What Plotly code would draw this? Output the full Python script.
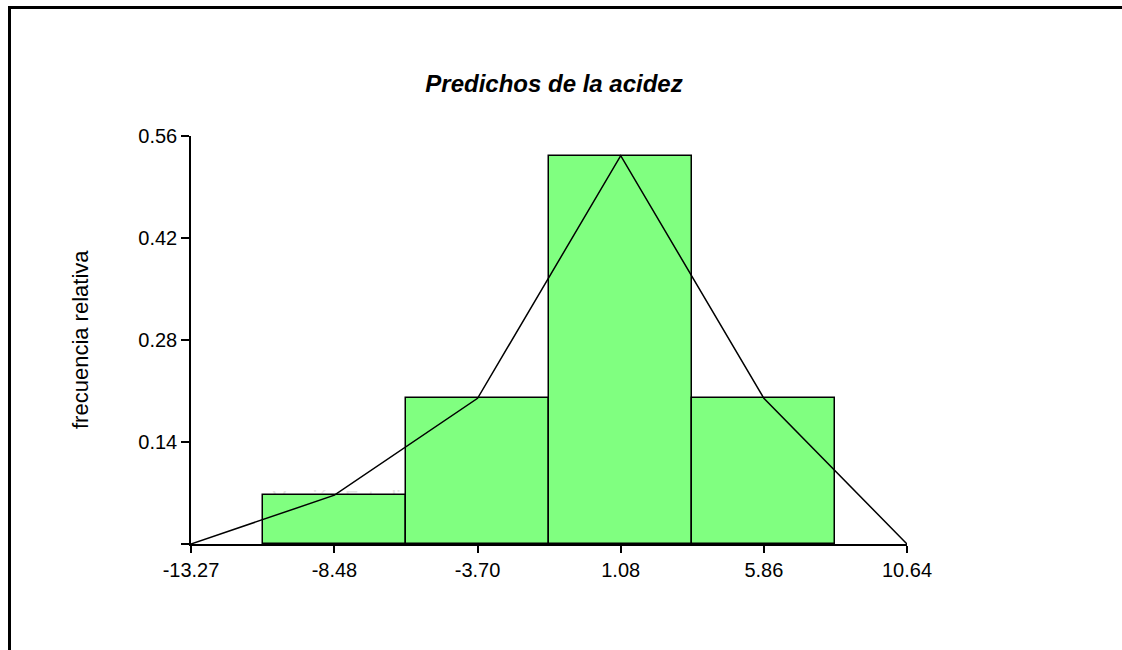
import plotly.graph_objects as go

# Data
bin_centers = [-8.48, -3.70, 1.08, 5.86]
rel_freq = [0.067, 0.200, 0.533, 0.200]
bin_width = 4.78
x_tick_vals = [-13.27, -8.48, -3.70, 1.08, 5.86, 10.64]
x_tick_text = ["-13.27", "-8.48", "-3.70", "1.08", "5.86", "10.64"]
y_tick_vals = [0, 0.14, 0.28, 0.42, 0.56]
y_tick_text = ["", "0.14", "0.28", "0.42", "0.56"]

# frequency polygon: bin midpoints closed with zero at one bin either side
poly_x = [x_tick_vals[0]] + bin_centers + [x_tick_vals[-1]]
poly_y = [0] + rel_freq + [0]

FONT = "Liberation Sans, Arial, sans-serif"

fig = go.Figure()
fig.add_trace(go.Bar(
    x=bin_centers, y=rel_freq, width=bin_width,
    marker=dict(color="#80ff80", line=dict(color="black", width=1.5)),
    hoverinfo="x+y", showlegend=False,
))
fig.add_trace(go.Scatter(
    x=poly_x, y=poly_y, mode="lines",
    line=dict(color="black", width=1.5), showlegend=False,
))

W, H = 1122, 650
L, R, T, B = 191, 215, 136, 106
pw, ph = W - L - R, H - T - B

def px_x(p):
    return (p - L) / pw

def px_y(p):
    return (H - B - p) / ph

frame = dict(color="black", width=3)

fig.update_layout(
    width=W, height=H,
    margin=dict(l=L, r=R, t=T, b=B),
    paper_bgcolor="white", plot_bgcolor="white",
    font=dict(family=FONT, size=20, color="black"),
    title=dict(text="<b><i>Predichos de la acidez</i></b>",
               x=554 / W, xref="container", xanchor="center",
               y=1 - 84 / H, yref="container", yanchor="middle",
               font=dict(family=FONT, size=24, color="black")),
    bargap=0,
    xaxis=dict(range=[x_tick_vals[0], x_tick_vals[-1]], tickmode="array",
               tickvals=x_tick_vals, ticktext=x_tick_text,
               showgrid=False, zeroline=False, showline=True,
               linecolor="black", linewidth=1.5, ticks="outside",
               ticklen=7, tickwidth=1.5, tickcolor="black",
               tickfont=dict(size=20)),
    yaxis=dict(range=[0, 0.56], tickmode="array",
               tickvals=y_tick_vals, ticktext=y_tick_text,
               showgrid=False, zeroline=False, showline=True,
               linecolor="black", linewidth=1.5, ticks="outside",
               ticklen=8, tickwidth=1.5, tickcolor="black",
               tickfont=dict(size=20)),
    annotations=[dict(text="frecuencia relativa", textangle=-90,
                      xref="paper", yref="paper", x=px_x(80), y=0.5,
                      xanchor="center", yanchor="middle", showarrow=False,
                      font=dict(family=FONT, size=22, color="black"))],
    shapes=[
        # outer frame: top and left edges (others lie outside the page)
        dict(type="line", xref="paper", yref="paper",
             x0=px_x(8), x1=px_x(1130), y0=px_y(7.5), y1=px_y(7.5),
             line=frame, layer="above"),
        dict(type="line", xref="paper", yref="paper",
             x0=px_x(9.5), x1=px_x(9.5), y0=px_y(6), y1=px_y(660),
             line=frame, layer="above"),
        # faint watermark behind the bars
        dict(type="rect", xref="paper", yref="paper",
             x0=px_x(260), x1=px_x(450), y0=px_y(508), y1=px_y(484),
             line=dict(width=0), fillcolor="rgba(0,0,0,0)", layer="below",
             label=dict(text="Versión Estudiantil", textposition="middle center",
                        font=dict(family=FONT, size=20, color="#e3e3e3"))),
    ],
)

fig.write_html(
    "out.html",
    config={"displayModeBar": False},
    post_script=("document.body.style.margin='0';"
                 "document.body.style.overflow='hidden';"
                 "document.body.style.background='white';"
                 "document.documentElement.style.background='white';"),
)
